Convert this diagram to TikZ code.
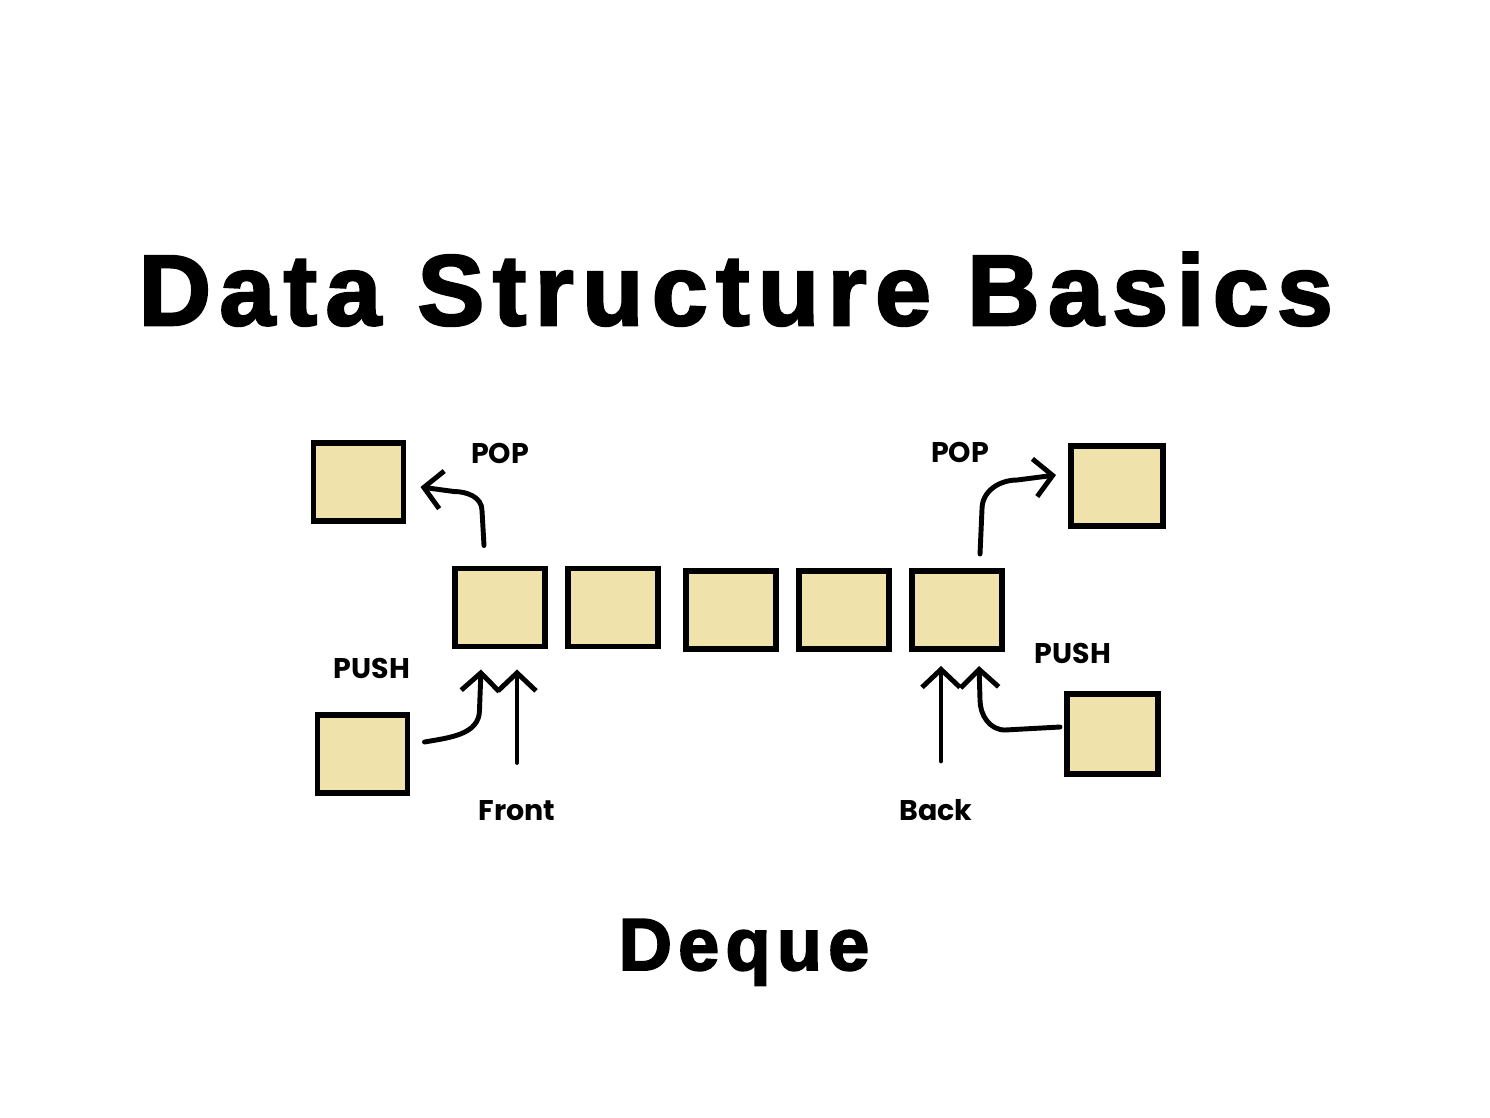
\documentclass[tikz,border=0pt]{standalone}
\usepackage{fontspec}
\newfontfamily\titlefont[LetterSpace=8.5,FakeBold=2.5]{Liberation Sans}
\newfontfamily\labelfont{Poppins}
\usetikzlibrary{positioning}
\usetikzlibrary{arrows.meta}
\definecolor{cellfill}{RGB}{239,227,171}
\tikzset{>={Straight Barb[length=1.8mm,width=3.8mm]}}
\tikzset{cell/.style={draw, line width=1.7pt, fill=cellfill, minimum width=9.0mm, minimum height=7.8mm, inner sep=0pt}}
\tikzset{arr/.style={->, line width=1.4pt, line cap=round, line join=round}}
\tikzset{lbl/.style={anchor=base, inner sep=0pt, font=\labelfont\bfseries\fontsize{8.1}{9}\selectfont}}

\begin{document}
\begin{tikzpicture}
\useasboundingbox (0,0) rectangle (14.9,-11.17);

\node[anchor=base west, inner sep=0pt, font=\titlefont\bfseries\fontsize{28.5}{30}\selectfont]
 (title) at (1.38,-3.25) {Data Structure Basics};
\node[anchor=base west, inner sep=0pt, font=\titlefont\bfseries\fontsize{21}{24}\selectfont]
 (deque) at (6.18,-9.70) {Deque};

\begin{scope}[on grid]
\node[cell] (q1) at (5.00,-6.075) {};
\node[cell] (q2) [right = 1.13cm of q1] {};
\node[cell] (q3) at (7.31,-6.10) {};
\node[cell] (q4) [right = 1.125cm of q3] {};
\node[cell] (q5) [right = 1.135cm of q4] {};

\node[cell] (popL) at (3.585,-4.82) {};
\node[cell] (pushL) at (3.625,-7.54) {};
\node[cell, minimum width=9.2mm, minimum height=8.0mm] (popR) at (11.17,-4.86) {};
\node[cell, minimum width=9.1mm, minimum height=8.0mm] (pushR) at (11.125,-7.34) {};
\end{scope}

\node[lbl] (popLtxt) at (5.00,-4.63) {POP};
\node[lbl] (popRtxt) at (9.60,-4.62) {POP};
\node[lbl] (pushLtxt) at (3.72,-6.78) {PUSH};
\node[lbl] (pushRtxt) at (10.73,-6.63) {PUSH};
\node[lbl] (front) at (5.17,-8.20) {Front};
\node[lbl] (back) at (9.36,-8.20) {Back};

% pop at both ends
\draw[arr] ([xshift=-1.6mm,yshift=2mm]q1.north) -- ++(-0.02,0.35)
 to[out=90,in=0] ++(-0.28,0.19)
 -- ([xshift=1.4mm,yshift=-0.5mm]popL.east);
\draw[arr] ([xshift=2.3mm,yshift=1.4mm]q5.north) -- ++(0.02,0.45)
 to[out=90,in=180] ++(0.35,0.29)
 -- ([xshift=-1.2mm,yshift=1.1mm]popR.west);

% push at both ends
\draw[arr] ([xshift=1.4mm,yshift=1.2mm]pushL.east)
 to[out=10,in=-90] ++(0.55,0.32)
 -- ([xshift=-1.9mm,yshift=-2mm]q1.south);
\draw[arr] ([xshift=-0.4mm,yshift=0.7mm]pushR.west) -- ++(-0.55,-0.03)
 to[out=180,in=-90] ++(-0.25,0.30)
 -- ([xshift=2.2mm,yshift=-1.4mm]q5.south);

% front and back pointers
\draw[arr] ([xshift=1.7mm,yshift=-11.3mm]q1.south) -- ([xshift=1.7mm,yshift=-2mm]q1.south);
\draw[arr] ([xshift=-1.6mm,yshift=-10.9mm]q5.south) -- ([xshift=-1.6mm,yshift=-1.4mm]q5.south);
\end{tikzpicture}
\end{document}
